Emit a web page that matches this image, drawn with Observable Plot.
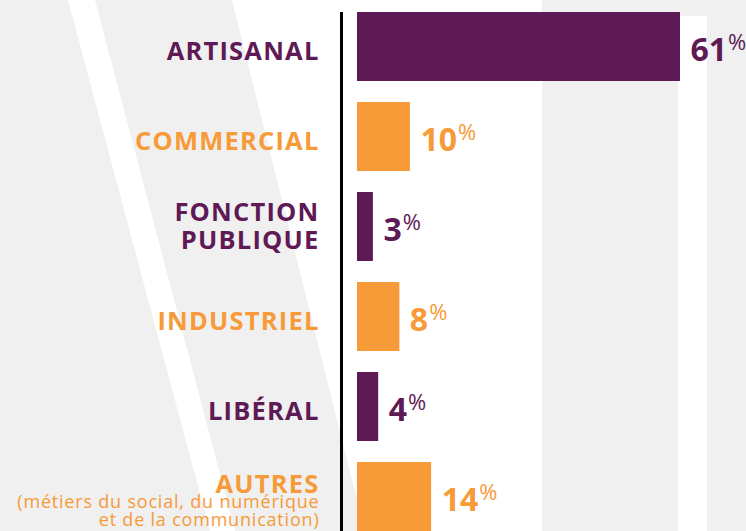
<!DOCTYPE html>
<html>
<head>
<meta charset="utf-8">
<script src="https://cdn.jsdelivr.net/npm/d3@7"></script>
<script src="https://cdn.jsdelivr.net/npm/@observablehq/plot@0.6"></script>
<style>
  html, body { margin: 0; padding: 0; background: #f0f0f0; }
  #wrap { position: relative; width: 746px; height: 531px; overflow: hidden; background: #f0f0f0; }
  .deco { position: absolute; left: 0; top: 0; width: 746px; height: 531px; background: #ffffff; }
  #stripe { clip-path: polygon(68px 0, 95px 0, 235px 531px, 210px 531px); }
  #panel { clip-path: polygon(232px 0, 542px 0, 542px 531px, 365px 531px); }
  #band { clip-path: polygon(678px 16px, 707px 16px, 707px 531px, 678px 531px); }
  #chart { position: absolute; left: 0; top: 0; }
</style>
</head>
<body>
<div id="wrap">
  <div class="deco" id="stripe"></div>
  <div class="deco" id="panel"></div>
  <div class="deco" id="band"></div>
  <div id="chart"></div>
</div>
<script>
// ---- data ----
const categories = ["ARTISANAL", "COMMERCIAL", "FONCTION PUBLIQUE", "INDUSTRIEL", "LIBÉRAL", "AUTRES"];
const labels = ["ARTISANAL", "COMMERCIAL", "FONCTION\nPUBLIQUE", "INDUSTRIEL", "LIBÉRAL", "AUTRES"];
const notes = ["", "", "", "", "", "(métiers du social, du numérique\net de la communication)"];
const values = [61, 10, 3, 8, 4, 14];
const groups = ["g1", "g2", "g1", "g2", "g1", "g2"];

const rows = categories.map((c, i) => ({
  category: c, label: labels[i], note: notes[i], value: values[i], group: groups[i]
}));

const single = rows.filter(d => !d.label.includes("\n") && !d.note);
const multi = rows.filter(d => d.label.includes("\n"));
const withNote = rows.filter(d => d.note);

const font = "'Open Sans', 'Noto Sans', sans-serif";

const chart = Plot.plot({
  width: 746,
  height: 531,
  marginLeft: 357,
  marginRight: 66,
  marginTop: 12,
  marginBottom: 0,
  style: { background: "transparent", fontFamily: font, overflow: "visible" },
  x: { domain: [0, 61], axis: null },
  y: { domain: categories, axis: null, paddingInner: 21 / 90, paddingOuter: 0, round: false },
  color: { domain: ["g1", "g2"], range: ["#5e1a55", "#f79a38"] },
  marks: [
    Plot.barX(rows, { y: "category", x: "value", fill: "group" }),
    Plot.ruleX([0], { dx: -16, stroke: "#000", strokeWidth: 3 }),
    Plot.text(single, {
      x: () => 0, y: "category", text: "label", fill: "group",
      textAnchor: "end", dx: -38, dy: 5, fontSize: 25.5, fontWeight: 700,
      ariaDescription: "labels"
    }),
    Plot.text(multi, {
      x: () => 0, y: "category", text: "label", fill: "group",
      textAnchor: "end", dx: -38, dy: -1, fontSize: 25.5, fontWeight: 700, lineHeight: 1.08,
      ariaDescription: "labels"
    }),
    Plot.text(withNote, {
      x: () => 0, y: "category", text: "label", fill: "group",
      textAnchor: "end", dx: -38, dy: -12, fontSize: 25.5, fontWeight: 700,
      ariaDescription: "labels"
    }),
    Plot.text(withNote, {
      x: () => 0, y: "category", text: "note", fill: "group",
      textAnchor: "end", dx: -38, dy: 14.5, fontSize: 18, fontWeight: 400, lineHeight: 1.0,
      ariaDescription: "notes"
    }),
    Plot.text(rows, {
      x: "value", y: "category", text: d => String(d.value), fill: "group",
      textAnchor: "start", dx: 10, dy: 4, fontSize: 32, fontWeight: 700,
      ariaDescription: "values"
    })
  ]
});

const svg = d3.select(chart);
svg.selectAll("g[aria-description=labels]").style("letter-spacing", "1.2px");
svg.selectAll("g[aria-description=notes]").style("letter-spacing", "0.8px");
svg.selectAll("g[aria-description=values] text").each(function () {
  d3.select(this).append("tspan")
    .attr("font-size", 22)
    .attr("font-weight", 400)
    .attr("dx", 1)
    .attr("dy", -11)
    .text("%");
});

document.getElementById("chart").appendChild(chart);
</script>
</body>
</html>
